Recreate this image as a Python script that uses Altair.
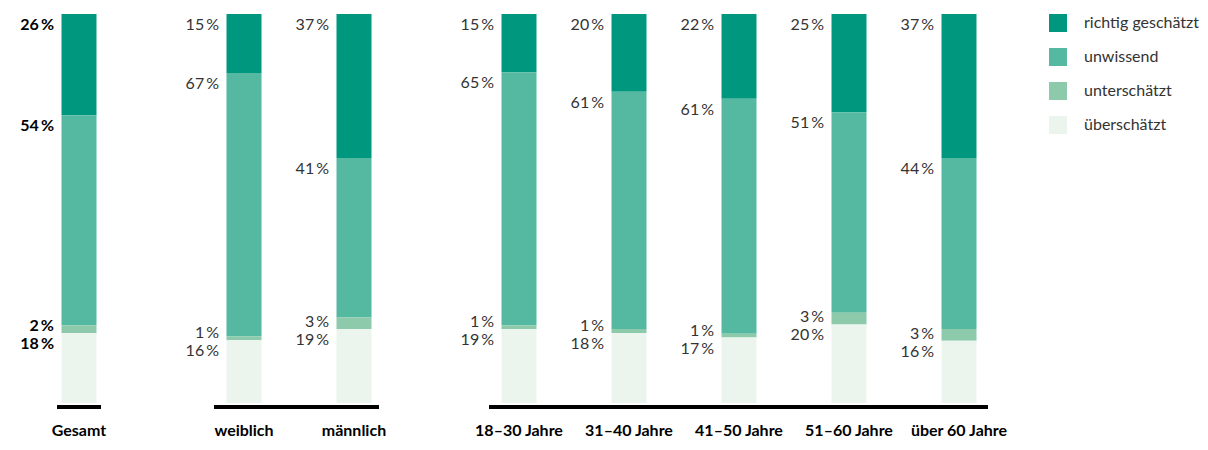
import altair as alt
import pandas as pd

categories = ["Gesamt", "weiblich", "männlich", "18–30 Jahre", "31–40 Jahre",
              "41–50 Jahre", "51–60 Jahre", "über 60 Jahre"]
groups = ["gesamt", "geschlecht", "geschlecht", "alter", "alter", "alter", "alter", "alter"]
series = ["richtig geschätzt", "unwissend", "unterschätzt", "überschätzt"]
richtig = [26, 15, 37, 15, 20, 22, 25, 37]
unwissend = [54, 67, 41, 65, 61, 61, 51, 44]
unterschaetzt = [2, 1, 3, 1, 1, 1, 3, 3]
ueberschaetzt = [18, 16, 19, 19, 18, 17, 20, 16]
colors = ["#00977f", "#55b9a1", "#8dcaac", "#ebf5ee"]

rows = []
for i, c in enumerate(categories):
    for s, vals, order in zip(series, [richtig, unwissend, unterschaetzt, ueberschaetzt], [3, 2, 1, 0]):
        rows.append(dict(cat=c, grp=groups[i], serie=s, value=vals[i], ord=order))
df = pd.DataFrame(rows)

FONT = "Lato"
H = 389
STEP = 110


def panel(grp, rule_from, rule_to, bold):
    sub = df[df.grp == grp]
    cats = [c for c in categories if c in set(sub.cat)]
    base = alt.Chart(sub).transform_stack(
        stack="value", groupby=["cat"], as_=["lo", "hi"],
        sort=[alt.SortField("ord", order="ascending")], offset="normalize"
    ).transform_calculate(label="datum.value + '\u2009%'")
    x = alt.X("cat:N", sort=cats, scale=alt.Scale(paddingInner=0, paddingOuter=0),
              axis=alt.Axis(title=None, labelAngle=0, domain=False, ticks=False,
                            labelFont=FONT, labelFontSize=16, labelFontWeight="bold",
                            labelColor="black", labelPadding=19))
    y = alt.Y("lo:Q", scale=alt.Scale(domain=[0, 1]), axis=None)
    bars = base.mark_bar(size=35).encode(
        x=x, y=y, y2="hi:Q",
        color=alt.Color("serie:N", scale=alt.Scale(domain=series, range=colors),
                        legend=alt.Legend(title=None)),
    )
    tcolor = "black" if bold else "#333333"
    tweight = "bold" if bold else "normal"
    t1 = base.transform_filter("datum.serie != 'unterschätzt'").mark_text(
        align="right", baseline="top", dx=-25, dy=3, font=FONT, fontSize=16,
        fontWeight=tweight, color=tcolor
    ).encode(x=x, y=alt.Y("hi:Q", scale=alt.Scale(domain=[0, 1]), axis=None), text="label:N")
    t2 = base.transform_filter("datum.serie == 'unterschätzt'").mark_text(
        align="right", baseline="bottom", dx=-25, dy=1, font=FONT, fontSize=16,
        fontWeight=tweight, color=tcolor
    ).encode(x=x, y=alt.Y("lo:Q", scale=alt.Scale(domain=[0, 1]), axis=None), text="label:N")
    rule = alt.Chart(pd.DataFrame({"r": [0]})).mark_rule(color="black", strokeWidth=4).encode(
        x=alt.value(rule_from), x2=alt.value(rule_to), y=alt.value(H + 4)
    )
    return alt.layer(bars, t1, t2, rule).properties(width=STEP * len(cats), height=H)


p1 = panel("gesamt", 33, 77, True)
p2 = panel("geschlecht", 25, 190, False)
p3 = panel("alter", 25, 524, False)

chart = alt.hconcat(p1, p2, p3, spacing=55, bounds="flush").resolve_scale(
    x="independent", color="shared"
).properties(
    padding={"left": 20, "top": 14, "right": 5, "bottom": 5}
).configure_view(stroke=None).configure_legend(
    orient="right", offset=35, symbolType="square", symbolSize=324, symbolStrokeWidth=0,
    labelFont=FONT, labelFontSize=16, labelColor="#333333", labelOffset=17,
    rowPadding=16, padding=0
)

chart.save("out.html", embed_options={"renderer": "svg", "actions": False})
